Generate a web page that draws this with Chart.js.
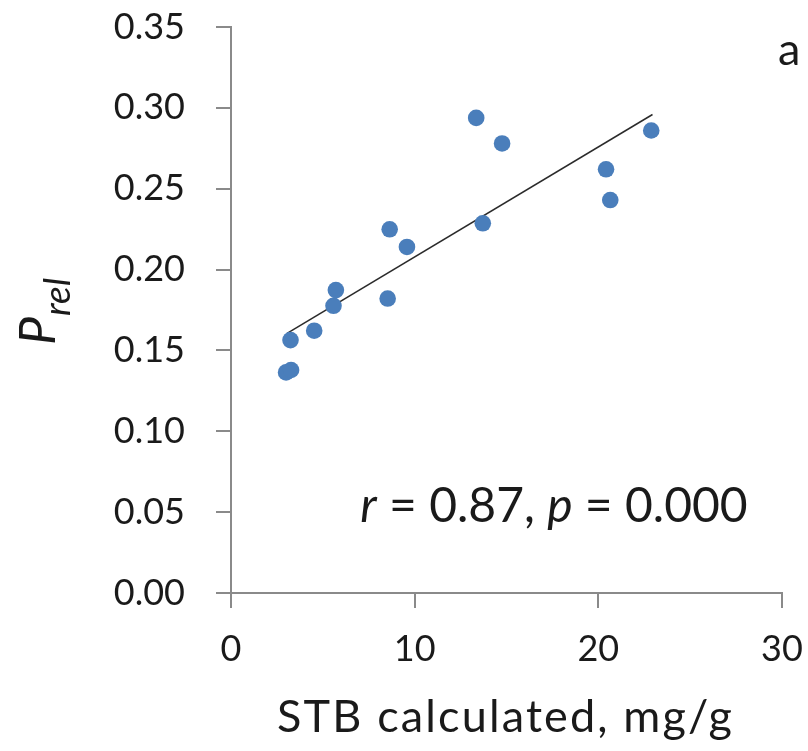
<!DOCTYPE html>
<html>
<head>
<meta charset="utf-8">
<script src="https://cdn.jsdelivr.net/npm/chart.js@4"></script>
<style>
  html, body { margin: 0; padding: 0; background: #fff; }
  #wrap { width: 808px; height: 751px; }
</style>
</head>
<body>
<div id="wrap"><canvas id="chart" width="808" height="751"></canvas></div>
<script>
// STB calculated (mg/g) against relative P
const stbValues = [3.0, 3.27, 3.24, 4.53, 5.58, 5.71, 8.53, 8.64, 9.58, 13.35, 13.71, 14.76, 20.42, 20.65, 22.88];
const pRelValues = [0.1364, 0.1379, 0.1564, 0.1622, 0.1776, 0.1873, 0.1821, 0.2249, 0.2140, 0.2938, 0.2286, 0.2780, 0.262, 0.243, 0.286];

// Linear trend line end points
const trendX = [3.05, 22.95];
const trendY = [0.1605, 0.2959];

const xTicks = [0, 10, 20, 30];
const yTicks = [0, 0.05, 0.10, 0.15, 0.20, 0.25, 0.30, 0.35];

const xTitle = 'STB calculated, mg/g';
const panelLabel = 'a';
const statsParts = [
  { text: 'r', italic: true },
  { text: ' = 0.87, ', italic: false },
  { text: 'p', italic: true },
  { text: ' = 0.000', italic: false }
];

const FONT = 'Lato, "Open Sans", sans-serif';
const TEXT = '#1a1a1a';
const AXIS = '#8a8a8a';

const points = stbValues.map((x, i) => ({ x, y: pRelValues[i] }));
const trend = trendX.map((x, i) => ({ x, y: trendY[i] }));

const textPlugin = {
  id: 'extraText',
  afterDraw(chart) {
    const ctx = chart.ctx;
    const area = chart.chartArea;
    ctx.save();
    ctx.fillStyle = TEXT;
    ctx.textBaseline = 'alphabetic';

    // x axis title, spread to its full width
    ctx.font = `45px ${FONT}`;
    ctx.textAlign = 'left';
    const titleWidth = 455;
    const natural = ctx.measureText(xTitle).width;
    const spacing = Math.max(0, (titleWidth - natural) / (xTitle.length - 1));
    ctx.letterSpacing = `${spacing}px`;
    ctx.fillText(xTitle, (area.left + area.right) / 2 - 2 - titleWidth / 2, 732);
    ctx.letterSpacing = '0px';

    // panel letter
    ctx.font = `45px ${FONT}`;
    ctx.fillText(panelLabel, 778, 65);

    // correlation statistics
    const size = 48;
    let total = 0;
    const widths = statsParts.map(p => {
      ctx.font = `${p.italic ? 'italic ' : ''}${size}px ${FONT}`;
      const w = ctx.measureText(p.text).width;
      total += w;
      return w;
    });
    let x = 554 - total / 2;
    statsParts.forEach((p, i) => {
      ctx.font = `${p.italic ? 'italic ' : ''}${size}px ${FONT}`;
      ctx.fillText(p.text, x, 522);
      x += widths[i];
    });

    // y axis title: P with subscript "rel", rotated
    ctx.rotate(-Math.PI / 2);
    ctx.font = `italic 50px ${FONT}`;
    const pw = ctx.measureText('P').width;
    const start = -345;
    ctx.fillText('P', start, 55);
    ctx.font = `italic 37px ${FONT}`;
    ctx.fillText('rel', start + pw + 1, 70);
    ctx.restore();
  }
};

new Chart(document.getElementById('chart'), {
  type: 'scatter',
  data: {
    datasets: [
      {
        label: 'Prel',
        data: points,
        backgroundColor: '#4A7EBB',
        borderWidth: 0,
        pointRadius: 8.3,
        pointHoverRadius: 8.3
      },
      {
        label: 'Trend',
        data: trend,
        showLine: true,
        borderColor: '#2b2b2b',
        borderWidth: 1.5,
        pointRadius: 0,
        fill: false
      }
    ]
  },
  options: {
    responsive: false,
    animation: false,
    layout: { padding: { top: 27, right: 26, left: 0, bottom: 0 } },
    plugins: {
      legend: { display: false },
      tooltip: { enabled: false }
    },
    scales: {
      x: {
        type: 'linear',
        min: xTicks[0],
        max: xTicks[xTicks.length - 1],
        afterBuildTicks: s => { s.ticks = xTicks.map(v => ({ value: v })); },
        afterFit: s => {
          s.height = 158;
          s.paddingLeft = 0;
          s.paddingRight = 0;
        },
        ticks: {
          font: { family: FONT, size: 36 },
          color: TEXT,
          padding: 20,
          maxRotation: 0,
          callback: v => String(v)
        },
        grid: { drawOnChartArea: false, drawTicks: true, tickLength: 15, color: AXIS, lineWidth: 2 },
        border: { display: true, color: AXIS, width: 2 }
      },
      y: {
        type: 'linear',
        min: yTicks[0],
        max: yTicks[yTicks.length - 1],
        afterBuildTicks: s => { s.ticks = yTicks.map(v => ({ value: v })); },
        afterFit: s => {
          s.width = 231;
          s.paddingTop = 0;
          s.paddingBottom = 0;
        },
        ticks: {
          font: { family: FONT, size: 36 },
          color: TEXT,
          padding: 31,
          callback: v => Number(v).toFixed(2)
        },
        grid: { drawOnChartArea: false, drawTicks: true, tickLength: 15, color: AXIS, lineWidth: 2 },
        border: { display: true, color: AXIS, width: 2 }
      }
    }
  },
  plugins: [textPlugin]
});
</script>
</body>
</html>
